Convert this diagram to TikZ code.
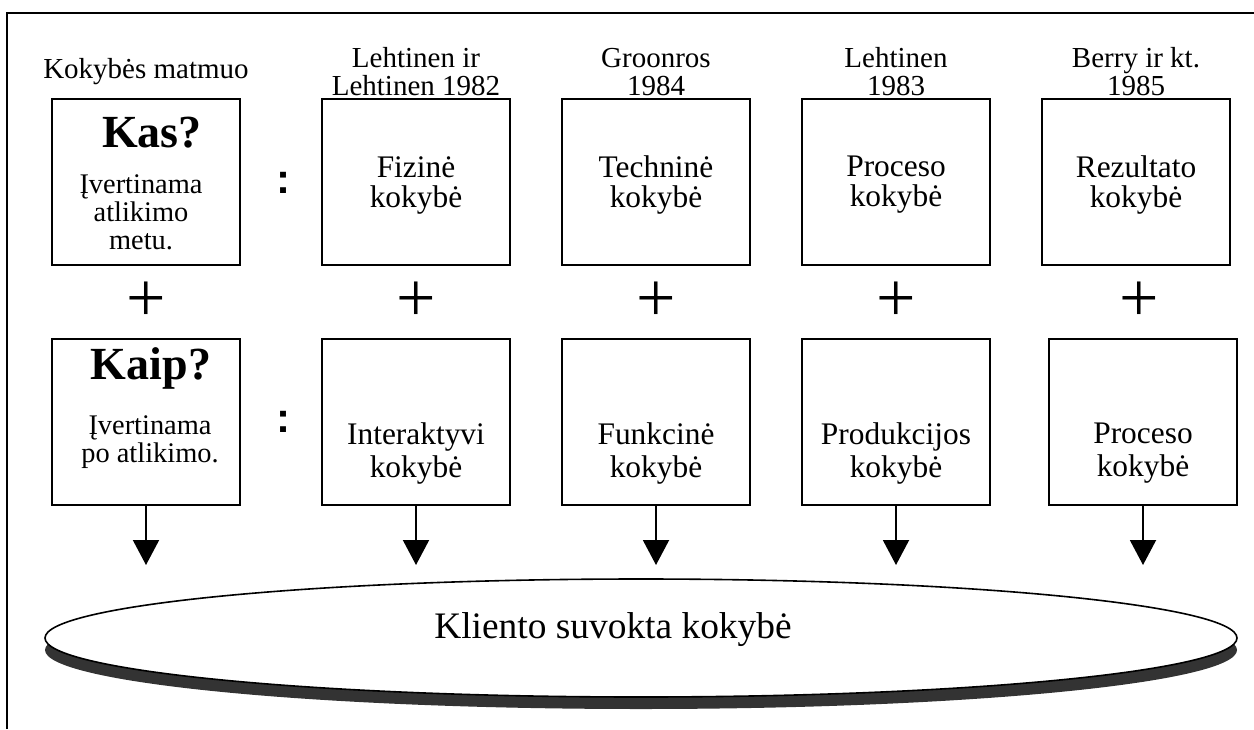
\documentclass[tikz,border=0pt]{standalone}
\usepackage{fontspec}
\setmainfont{Liberation Serif}
\newfontfamily\colonfont{Liberation Sans}
\usetikzlibrary{positioning,calc,shapes.geometric,shadows,arrows.meta}

\begin{document}
\begin{tikzpicture}[x=0.5pt,y=-0.5pt,>={Triangle[width=13pt,length=12.5pt]},node distance=120pt,
  box/.style={draw,line width=1pt,minimum width=94pt,minimum height=83pt,inner sep=0pt},
  lbl/.style={align=center,font=\fontsize{14.5}{14}\selectfont},
  txt/.style={align=center,font=\fontsize{15.7}{15}\selectfont},
  txtb/.style={align=center,font=\fontsize{15.7}{16.5}\selectfont},
  sub/.style={align=center,font=\fontsize{14.2}{14}\selectfont},
  head/.style={font=\bfseries\fontsize{23}{23}\selectfont},
  colon/.style={font=\colonfont\bfseries\fontsize{21}{21}\selectfont,inner sep=0pt},
  plus/.style={font=\fontsize{35}{35}\selectfont,inner sep=0pt},
  arr/.style={->,line width=1pt}]

  \useasboundingbox (0,0) rectangle (1254,729);
  \draw[line width=1pt] (7,729) -- (7,13) -- (1254,13);

  % pirma eilute
  \node[box] (k1) at (146,182) {};
  \node[box] (k2) at (416,182) {};
  \node[box] (k3) [right of = k2] {};
  \node[box] (k4) [right of = k3] {};
  \node[box] (k5) [right of = k4] {};

  % antra eilute
  \node[box] (p1) [below of = k1] {};
  \node[box] (p2) [below of = k2] {};
  \node[box] (p3) [below of = k3] {};
  \node[box] (p4) [below of = k4] {};
  \node[box] (p5) [below of = k5, xshift=3.5pt] {};

  % antrastes
  \node[lbl] (h1) at ([yshift=13pt]k1.north) {Kokybės matmuo};
  \node[lbl] (h2) at ([yshift=13pt]k2.north) {Lehtinen ir\\Lehtinen 1982};
  \node[lbl] (h3) at ([yshift=13pt]k3.north) {Groonros\\1984};
  \node[lbl] (h4) at ([yshift=13pt]k4.north) {Lehtinen\\1983};
  \node[lbl] (h5) at ([yshift=13pt]k5.north) {Berry ir kt.\\1985};

  % tekstai
  \node[head] (kas) at ([xshift=3pt,yshift=24.5pt]k1.center) {Kas?};
  \node[sub] (kas2) at ([xshift=-2.5pt,yshift=-15pt]k1.center) {Įvertinama\\atlikimo\\metu.};
  \node[head] (kaip) at ([xshift=2.5pt,yshift=27pt]p1.center) {Kaip?};
  \node[sub] (kaip2) at ([xshift=2pt,yshift=-10pt]p1.center) {Įvertinama\\po atlikimo.};

  \node[txt] (t2) at ([yshift=-1.5pt]k2.center) {Fizinė\\kokybė};
  \node[txt] (t3) at ([yshift=-1.5pt]k3.center) {Techninė\\kokybė};
  \node[txt] (t4) at ([yshift=-1.5pt]k4.center) {Proceso\\kokybė};
  \node[txt] (t5) at ([yshift=-1.5pt]k5.center) {Rezultato\\kokybė};
  \node[txtb] (u2) at ([yshift=-15.5pt]p2.center) {Interaktyvi\\kokybė};
  \node[txtb] (u3) at ([yshift=-15.5pt]p3.center) {Funkcinė\\kokybė};
  \node[txtb] (u4) at ([yshift=-15.5pt]p4.center) {Produkcijos\\kokybė};
  \node[txtb] (u5) at ([yshift=-15.5pt]p5.center) {Proceso\\kokybė};

  % dvitaskiai
  \node[colon] (c1) at (283,183) {:};
  \node[colon] (c2) at (283,422) {:};

  % pliusai
  \node[plus] (s1) at ($(k1.south)!0.5!(p1.north)$) {+};
  \node[plus] (s2) at ($(k2.south)!0.5!(p2.north)$) {+};
  \node[plus] (s3) at ($(k3.south)!0.5!(p3.north)$) {+};
  \node[plus] (s4) at ($(k4.south)!0.5!(p4.north)$) {+};
  \node[plus] (s5) at ($(k5.south)!0.5!(p5.north)$) {+};

  % elipse
  \node[ellipse, draw, line width=0.8pt, fill=white, minimum width=596pt, minimum height=59pt,
        drop shadow={shadow xshift=0pt, shadow yshift=-6pt, fill=black!80, opacity=1}] (e) at (641,638) {};
  \node[font=\fontsize{18.7}{20}\selectfont] (et) at (613,630) {Kliento suvokta kokybė};

  \coordinate (tip) at (0,565);
  \draw[arr] (p1.south) -- (p1.south |- tip);
  \draw[arr] (p2.south) -- (p2.south |- tip);
  \draw[arr] (p3.south) -- (p3.south |- tip);
  \draw[arr] (p4.south) -- (p4.south |- tip);
  \draw[arr] (p5.south) -- (p5.south |- tip);
\end{tikzpicture}
\end{document}
